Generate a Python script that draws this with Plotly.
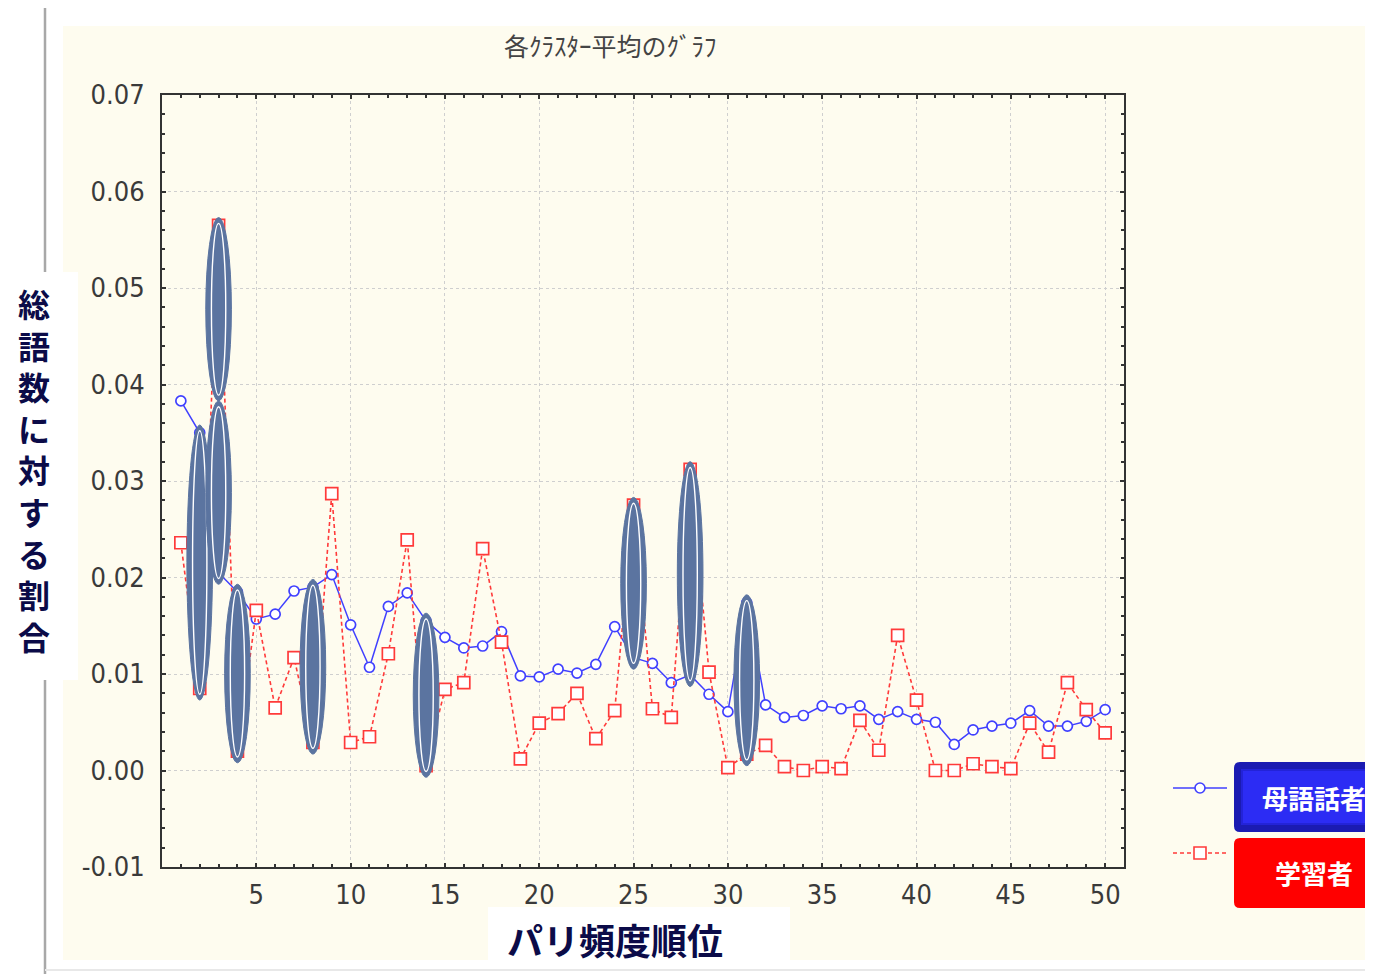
import plotly.graph_objects as go

# ---------------- data ----------------
ranks = list(range(1, 51))
native = [0.0383, 0.0350, 0.0205, 0.0185, 0.0157, 0.0162, 0.0186, 0.0190, 0.0203, 0.0151,
          0.0107, 0.0170, 0.0184, 0.0155, 0.0138, 0.0127, 0.0129, 0.0144, 0.0098, 0.0097,
          0.0105, 0.0101, 0.0110, 0.0149, 0.0117, 0.0111, 0.0091, 0.0099, 0.0079, 0.0061,
          0.0174, 0.0068, 0.0055, 0.0057, 0.0067, 0.0064, 0.0067, 0.0053, 0.0061, 0.0053,
          0.0050, 0.0027, 0.0042, 0.0046, 0.0049, 0.0062, 0.0046, 0.0046, 0.0051, 0.0063]
learner = [0.0236, 0.0085, 0.0565, 0.0020, 0.0166, 0.0065, 0.0117, 0.0029, 0.0287, 0.0029,
           0.0035, 0.0121, 0.0239, 0.0005, 0.0084, 0.0091, 0.0230, 0.0133, 0.0012, 0.0049,
           0.0059, 0.0080, 0.0033, 0.0062, 0.0275, 0.0064, 0.0055, 0.0312, 0.0102, 0.0003,
           0.0017, 0.0026, 0.0004, 0.0000, 0.0004, 0.0002, 0.0052, 0.0021, 0.0140, 0.0073,
           0.0000, 0.0000, 0.0007, 0.0004, 0.0002, 0.0049, 0.0019, 0.0091, 0.0063, 0.0039]
highlight_ranks = [2, 3, 4, 8, 14, 25, 28, 31]
split_ranks = [3]

title_text = "各ｸﾗｽﾀｰ平均のｸﾞﾗﾌ"
ylabel_text = "総語数に対する割合"
xlabel_text = "パリ頻度順位"
name_native = "母語話者"
name_learner = "学習者"
xticks = [5, 10, 15, 20, 25, 30, 35, 40, 45, 50]
yticks = [-0.01, 0.00, 0.01, 0.02, 0.03, 0.04, 0.05, 0.06, 0.07]

# ---------------- layout geometry (screen pixels) ----------------
OFF = 8                      # page body margin
SW, SH = 1373, 974
L, R, T, B = 162, 1124, 95, 867


def px(x):
    return (x - L) / (R - L)


def py(y):
    return (B - y) / (B - T)


BLUE = "#4040ff"
RED = "#ff3a3a"
SLATE = "#5b74a0"

fig = go.Figure()

fig.add_trace(go.Scatter(
    x=ranks, y=native, mode="lines+markers", name=name_native,
    line=dict(color=BLUE, width=1.5),
    marker=dict(symbol="circle", size=10, color="white", line=dict(color=BLUE, width=1.7)),
    showlegend=False, cliponaxis=False))
fig.add_trace(go.Scatter(
    x=ranks, y=learner, mode="lines+markers", name=name_learner,
    line=dict(color=RED, width=1.6, dash="4px,3px"),
    marker=dict(symbol="square", size=12, color="white", line=dict(color=RED, width=1.7)),
    showlegend=False, cliponaxis=False))

shapes = []
# outer page decorations
shapes.append(dict(type="rect", xref="paper", yref="paper", layer="below",
                   x0=px(63), x1=px(1368), y0=py(960), y1=py(26),
                   fillcolor="#fefcef", line=dict(width=0)))
shapes.append(dict(type="line", xref="paper", yref="paper", layer="below",
                   x0=px(45), x1=px(1373), y0=py(5), y1=py(5),
                   line=dict(color="#e6e6e6", width=2)))
shapes.append(dict(type="line", xref="paper", yref="paper", layer="below",
                   x0=px(45), x1=px(45), y0=py(5), y1=py(974),
                   line=dict(color="#a8a8a8", width=2.5)))
shapes.append(dict(type="line", xref="paper", yref="paper", layer="below",
                   x0=px(45), x1=px(1373), y0=py(970), y1=py(970),
                   line=dict(color="#e8e8e8", width=2)))
# label white boxes
shapes.append(dict(type="rect", xref="paper", yref="paper",
                   x0=px(OFF), x1=px(78), y0=py(680), y1=py(272),
                   fillcolor="white", line=dict(width=0)))
shapes.append(dict(type="rect", xref="paper", yref="paper",
                   x0=px(488), x1=px(790), y0=py(960), y1=py(907),
                   fillcolor="white", line=dict(width=0)))

# highlight ellipses derived from the data
HW = 0.68
for r in highlight_ranks:
    b = native[r - 1]
    l = learner[r - 1]
    top = max(b, l) + 0.0008
    bot = min(b, l) - 0.0012
    parts = [(bot, top)]
    if r in split_ranks:
        mid = (top + bot) / 2
        parts = [(bot, mid), (mid, top)]
    for (y0, y1) in parts:
        shapes.append(dict(type="circle", xref="x", yref="y",
                           x0=r - HW, x1=r + HW, y0=y0, y1=y1,
                           fillcolor=SLATE, line=dict(color=SLATE, width=1)))
        shapes.append(dict(type="circle", xref="x", yref="y",
                           x0=r - HW + 0.3, x1=r + HW - 0.3,
                           y0=y0 + 0.0006, y1=y1 - 0.0006,
                           line=dict(color="white", width=1.4)))

# legend samples
shapes.append(dict(type="line", xref="paper", yref="paper",
                   x0=px(1173), x1=px(1227), y0=py(788), y1=py(788),
                   line=dict(color=BLUE, width=1.5)))
shapes.append(dict(type="circle", xref="paper", yref="paper",
                   x0=px(1195), x1=px(1205), y0=py(793), y1=py(783),
                   fillcolor="white", line=dict(color=BLUE, width=1.6)))
shapes.append(dict(type="line", xref="paper", yref="paper",
                   x0=px(1173), x1=px(1227), y0=py(853), y1=py(853),
                   line=dict(color=RED, width=1.5, dash="4px,3px")))
shapes.append(dict(type="rect", xref="paper", yref="paper",
                   x0=px(1194), x1=px(1206), y0=py(859), y1=py(847),
                   fillcolor="white", line=dict(color=RED, width=1.6)))


def rrect(x0, y0, x1, y1, rad):
    X = px
    Y = py
    return (f"M {X(x0+rad)},{Y(y0)} L {X(x1-rad)},{Y(y0)} Q {X(x1)},{Y(y0)} {X(x1)},{Y(y0+rad)} "
            f"L {X(x1)},{Y(y1-rad)} Q {X(x1)},{Y(y1)} {X(x1-rad)},{Y(y1)} "
            f"L {X(x0+rad)},{Y(y1)} Q {X(x0)},{Y(y1)} {X(x0)},{Y(y1-rad)} "
            f"L {X(x0)},{Y(y0+rad)} Q {X(x0)},{Y(y0)} {X(x0+rad)},{Y(y0)} Z")


shapes.append(dict(type="path", xref="paper", yref="paper", path=rrect(1234, 762, 1385, 832, 6),
                   fillcolor="#1b1bb2", line=dict(width=0)))
shapes.append(dict(type="rect", xref="paper", yref="paper",
                   x0=px(1242), x1=px(1385), y0=py(824), y1=py(770),
                   fillcolor="#2c2cf4", line=dict(color="#2323d8", width=2)))
shapes.append(dict(type="path", xref="paper", yref="paper", path=rrect(1234, 838, 1385, 908, 6),
                   fillcolor="#ff0000", line=dict(width=0)))

annotations = []
annotations.append(dict(text=title_text, xref="paper", yref="paper", x=px(610), y=py(45),
                        showarrow=False, xanchor="center", yanchor="middle",
                        font=dict(family="Noto Sans CJK JP", size=25, color="#444444")))
# vertical y label, one glyph per line
annotations.append(dict(text="<br>".join(ylabel_text), xref="paper", yref="paper",
                        x=px(34), y=py(470), showarrow=False,
                        xanchor="center", yanchor="middle", align="center",
                        font=dict(family="Noto Sans CJK JP", size=32, color="#0b0b48",
                                  weight="bold")))
annotations.append(dict(text=xlabel_text, xref="paper", yref="paper", x=px(615), y=py(939),
                        showarrow=False, xanchor="center", yanchor="middle",
                        font=dict(family="Noto Sans CJK JP", size=36, color="#0b0b48",
                                  weight="bold")))
annotations.append(dict(text=name_native, xref="paper", yref="paper", x=px(1314), y=py(797),
                        showarrow=False, xanchor="center", yanchor="middle",
                        font=dict(family="Noto Sans CJK JP", size=26, color="white", weight="bold")))
annotations.append(dict(text=name_learner, xref="paper", yref="paper", x=px(1314), y=py(872),
                        showarrow=False, xanchor="center", yanchor="middle",
                        font=dict(family="Noto Sans CJK JP", size=26, color="white", weight="bold")))

tickfont = dict(family="Liberation Sans Narrow, DejaVu Sans Condensed, Liberation Mono",
                size=27, color="#3a3a3a")

fig.update_layout(
    width=SW - OFF, height=SH - OFF,
    margin=dict(l=L - OFF, r=SW - R, t=T - OFF, b=SH - B, pad=0),
    paper_bgcolor="white", plot_bgcolor="white",
    shapes=shapes, annotations=annotations,
    showlegend=False,
    xaxis=dict(range=[0, 51], tickvals=xticks, ticktext=[str(v) for v in xticks],
               ticks="inside", ticklen=4, tickcolor="#333", tickwidth=1.5,
               minor=dict(dtick=1, tick0=0, ticks="inside", ticklen=3, tickcolor="#333",
                          showgrid=False),
               showgrid=True, gridcolor="#cfcfcf", griddash="dot", gridwidth=1,
               showline=True, linecolor="#333", linewidth=2, mirror="allticks",
               zeroline=False, tickfont=tickfont, ticklabelstandoff=3),
    yaxis=dict(range=[-0.01, 0.07], tickvals=yticks, ticktext=[f"{v:.2f}" for v in yticks],
               ticks="inside", ticklen=4, tickcolor="#333", tickwidth=1.5,
               minor=dict(dtick=0.002, tick0=0, ticks="inside", ticklen=3, tickcolor="#333",
                          showgrid=False),
               showgrid=True, gridcolor="#cfcfcf", griddash="dot", gridwidth=1,
               showline=True, linecolor="#333", linewidth=2, mirror="allticks",
               zeroline=False, tickfont=tickfont, ticklabelstandoff=10),
)

fig.write_html("out.html")
